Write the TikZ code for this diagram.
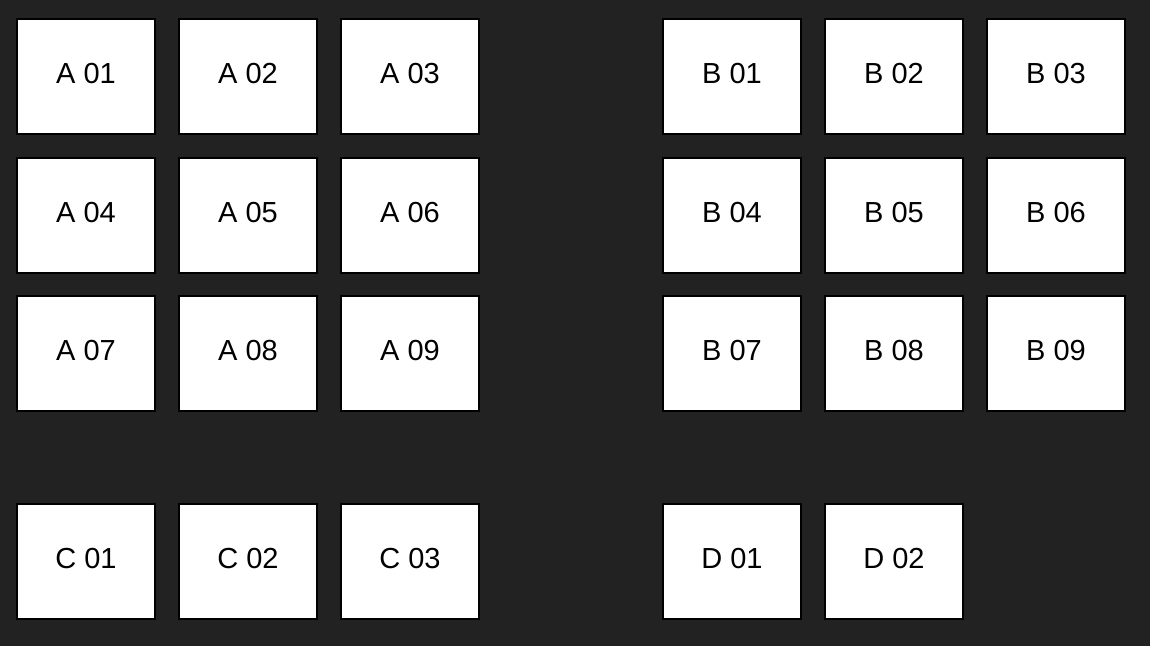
\documentclass[tikz,border=0pt]{standalone}
\usepackage{fontspec}
\setmainfont{Liberation Sans}
\usepackage{tikz}
\definecolor{bgdark}{HTML}{222222}

\begin{document}
\begin{tikzpicture}[x=1pt, y=-1pt, line width=2pt,
	seat/.style={draw=black, fill=white, minimum width=138pt, minimum height=115pt, inner sep=0pt, text height=21pt, text depth=8pt, font=\fontsize{29}{33}\selectfont}]
			\fill [bgdark] (0, 0) rectangle (1150, 646);
			\node [seat] (a01) at (86, 76.5) {A 01};
			\node [seat] (a02) at (248, 76.5) {A 02};
			\node [seat] (a03) at (410, 76.5) {A 03};
			\node [seat] (a04) at (86, 215.5) {A 04};
			\node [seat] (a05) at (248, 215.5) {A 05};
			\node [seat] (a06) at (410, 215.5) {A 06};
			\node [seat] (a07) at (86, 353.5) {A 07};
			\node [seat] (a08) at (248, 353.5) {A 08};
			\node [seat] (a09) at (410, 353.5) {A 09};
			\node [seat] (b01) at (732, 76.5) {B 01};
			\node [seat] (b02) at (894, 76.5) {B 02};
			\node [seat] (b03) at (1056, 76.5) {B 03};
			\node [seat] (b04) at (732, 215.5) {B 04};
			\node [seat] (b05) at (894, 215.5) {B 05};
			\node [seat] (b06) at (1056, 215.5) {B 06};
			\node [seat] (b07) at (732, 353.5) {B 07};
			\node [seat] (b08) at (894, 353.5) {B 08};
			\node [seat] (b09) at (1056, 353.5) {B 09};
			\node [seat] (c01) at (86, 561.5) {C 01};
			\node [seat] (c02) at (248, 561.5) {C 02};
			\node [seat] (c03) at (410, 561.5) {C 03};
			\node [seat] (d01) at (732, 561.5) {D 01};
			\node [seat] (d02) at (894, 561.5) {D 02};
			\useasboundingbox (0, 0) rectangle (1150, 646);
\end{tikzpicture}
\end{document}
